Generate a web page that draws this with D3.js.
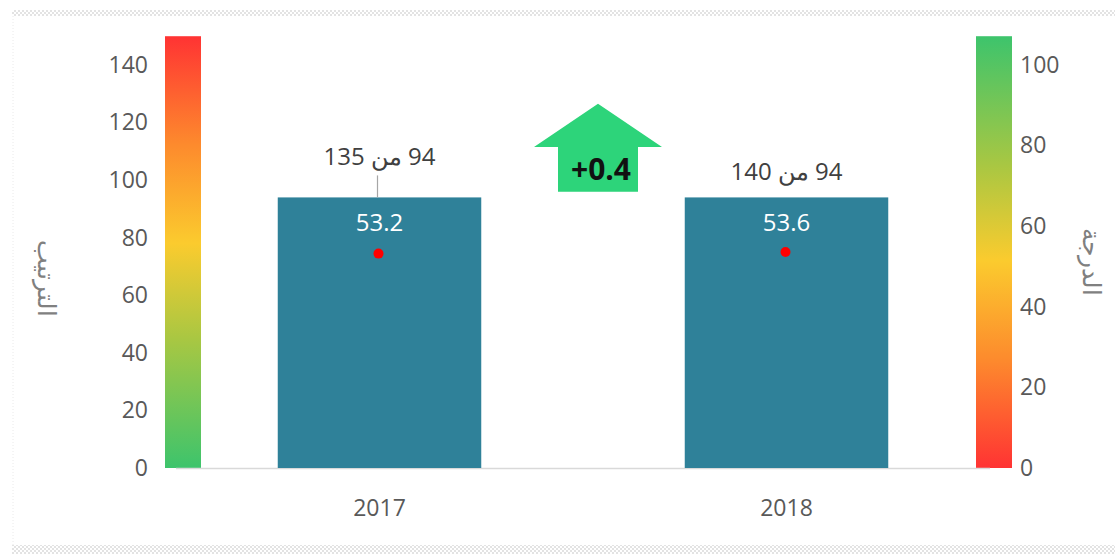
<!DOCTYPE html>
<html>
<head>
<meta charset="utf-8">
<script src="https://cdn.jsdelivr.net/npm/d3@7"></script>
<style>
  body { margin: 0; background: #fff; }
  svg text { font-family: "Open Sans", Lato, sans-serif; }
</style>
</head>
<body>
<div id="chart"></div>
<script>
// data
var years = ["2017", "2018"];
var ranks = [94, 94];
var totals = [135, 140];
var scores = [53.2, 53.6];
var change = "+0.4";
var rankTicks = [0, 20, 40, 60, 80, 100, 120, 140];
var scoreTicks = [0, 20, 40, 60, 80, 100];
var rankMax = 150;
var rankTitle = "الترتيب";
var scoreTitle = "الدرجة";

var width = 1115, height = 559;

var svg = d3.select("#chart").append("svg")
  .attr("width", width)
  .attr("height", height);

var defs = svg.append("defs");

// dotted frame pattern
var pat = defs.append("pattern")
  .attr("id", "dots")
  .attr("width", 4).attr("height", 4)
  .attr("patternUnits", "userSpaceOnUse");
pat.append("rect").attr("width", 2).attr("height", 2).attr("fill", "#e3e3e3");
pat.append("rect").attr("x", 2).attr("y", 2).attr("width", 2).attr("height", 2).attr("fill", "#e3e3e3");

svg.append("rect").attr("x", 12).attr("y", 10).attr("width", width - 12).attr("height", 6).attr("fill", "url(#dots)");
svg.append("rect").attr("x", 12).attr("y", 545).attr("width", width - 12).attr("height", 9).attr("fill", "url(#dots)");
svg.append("line").attr("x1", 13).attr("x2", 13).attr("y1", 16).attr("y2", 545)
  .attr("stroke", "#eaeaea").attr("stroke-dasharray", "1,2");

// gradients
var stopsUp = [
  { o: 0, c: "#ff3333" },
  { o: 0.25, c: "#fd8a2d" },
  { o: 0.48, c: "#fbcb2e" },
  { o: 0.7, c: "#a9c742" },
  { o: 1, c: "#3dc46c" }
];
function makeGrad(id, reverse) {
  var g = defs.append("linearGradient").attr("id", id)
    .attr("x1", 0).attr("x2", 0).attr("y1", 0).attr("y2", 1);
  var list = reverse ? stopsUp.slice().reverse() : stopsUp;
  list.forEach(function (s) {
    g.append("stop").attr("offset", reverse ? 1 - s.o : s.o).attr("stop-color", s.c);
  });
}
makeGrad("gradLeft", false);
makeGrad("gradRight", true);

// scales
var plotLeft = 176, plotRight = 990, plotTop = 65, plotBottom = 468;
var x = d3.scaleBand().domain(years).range([plotLeft, plotRight]).paddingInner(0.5).paddingOuter(0.25);
var yRank = d3.scaleLinear().domain([0, 140]).range([plotBottom, plotTop]);
var yScore = d3.scaleLinear().domain([0, 100]).range([plotBottom, plotTop]);

// gradient bars (full-height indicators)
svg.append("rect")
  .attr("x", plotLeft - 11).attr("width", 36)
  .attr("y", yRank(rankMax)).attr("height", yRank(0) - yRank(rankMax))
  .attr("fill", "url(#gradLeft)");
svg.append("rect")
  .attr("x", plotRight - 14).attr("width", 36)
  .attr("y", yRank(rankMax)).attr("height", yRank(0) - yRank(rankMax))
  .attr("fill", "url(#gradRight)");

// baseline
svg.append("line")
  .attr("x1", plotLeft).attr("x2", plotRight)
  .attr("y1", plotBottom + 0.5).attr("y2", plotBottom + 0.5)
  .attr("stroke", "#d9d9d9").attr("stroke-width", 1.5);

// axes
var leftAxis = svg.append("g")
  .attr("transform", "translate(" + (plotLeft - 28) + ",0)")
  .call(d3.axisLeft(yRank).tickValues(rankTicks).tickSize(0).tickPadding(0));
var rightAxis = svg.append("g")
  .attr("transform", "translate(" + (plotRight + 30) + ",0)")
  .call(d3.axisRight(yScore).tickValues(scoreTicks).tickSize(0).tickPadding(0));
[leftAxis, rightAxis].forEach(function (a) {
  a.select(".domain").remove();
  a.selectAll("text")
    .attr("fill", "#595959")
    .style("font-size", "23px")
    .style("font-family", "'Open Sans', sans-serif");
});

var xAxis = svg.append("g")
  .attr("transform", "translate(0," + plotBottom + ")")
  .call(d3.axisBottom(x).tickSize(0).tickPadding(32));
xAxis.select(".domain").remove();
xAxis.selectAll("text")
  .attr("fill", "#595959")
  .style("font-size", "23px")
  .style("font-family", "'Open Sans', sans-serif");

// axis titles
svg.append("text")
  .attr("transform", "translate(45," + 278 + ") rotate(90)")
  .attr("text-anchor", "middle")
  .attr("dominant-baseline", "middle")
  .attr("direction", "rtl")
  .attr("fill", "#808080")
  .style("font-size", "25px")
  .text(rankTitle);
svg.append("text")
  .attr("transform", "translate(1090," + 262 + ") rotate(90)")
  .attr("text-anchor", "middle")
  .attr("dominant-baseline", "middle")
  .attr("direction", "rtl")
  .attr("fill", "#808080")
  .style("font-size", "25px")
  .text(scoreTitle);

// bars
var rows = years.map(function (y, i) {
  return { year: y, rank: ranks[i], total: totals[i], score: scores[i] };
});

svg.selectAll(".bar").data(rows).enter().append("rect")
  .attr("class", "bar")
  .attr("x", function (d) { return x(d.year); })
  .attr("width", x.bandwidth())
  .attr("y", function (d) { return yRank(d.rank); })
  .attr("height", function (d) { return yRank(0) - yRank(d.rank); })
  .attr("fill", "#2f8199");

// score labels inside bars
svg.selectAll(".scoreLabel").data(rows).enter().append("text")
  .attr("x", function (d) { return x(d.year) + x.bandwidth() / 2; })
  .attr("y", function (d) { return yRank(d.rank) + 34; })
  .attr("text-anchor", "middle")
  .attr("fill", "#ffffff")
  .style("font-size", "24px")
  .text(function (d) { return d.score.toFixed(1); });

// score points
svg.selectAll(".dot").data(rows).enter().append("circle")
  .attr("cx", function (d) { return x(d.year) + x.bandwidth() / 2 - 1; })
  .attr("cy", function (d) { return yScore(d.score); })
  .attr("r", 5)
  .attr("fill", "#ff0000");

// rank labels
var rankLabelOffset = [40, 25];
svg.selectAll(".rankLabel").data(rows).enter().append("text")
  .attr("x", function (d) { return x(d.year) + x.bandwidth() / 2; })
  .attr("y", function (d, i) { return yRank(d.rank) - rankLabelOffset[i] + 8; })
  .attr("text-anchor", "middle")
  .attr("direction", "rtl")
  .attr("fill", "#404040")
  .style("font-size", "24px")
  .text(function (d) { return d.rank + " من " + d.total; });

// leader line for first label
svg.append("line")
  .attr("x1", x(years[0]) + x.bandwidth() / 2 - 2)
  .attr("x2", x(years[0]) + x.bandwidth() / 2 - 2)
  .attr("y1", yRank(ranks[0]) - 22)
  .attr("y2", yRank(ranks[0]))
  .attr("stroke", "#a6a6a6").attr("stroke-width", 1.2);

// change arrow
var ax = (x(years[0]) + x(years[1]) + x.bandwidth()) / 2 + 15;
var tipY = yRank(126.5), wingY = yRank(111.5), baseY = yRank(96);
var wingHalf = 64, shaftHalf = 40;
var arrowPts = [
  [ax, tipY], [ax + wingHalf, wingY], [ax + shaftHalf, wingY], [ax + shaftHalf, baseY],
  [ax - shaftHalf, baseY], [ax - shaftHalf, wingY], [ax - wingHalf, wingY]
];
svg.append("path")
  .attr("d", d3.line()(arrowPts) + "Z")
  .attr("fill", "#2dd47a");
svg.append("text")
  .attr("x", ax + 3)
  .attr("y", (wingY + baseY) / 2 + 11)
  .attr("text-anchor", "middle")
  .attr("fill", "#111")
  .style("font-size", "30px")
  .style("font-weight", "bold")
  .text(change);
</script>
</body>
</html>
